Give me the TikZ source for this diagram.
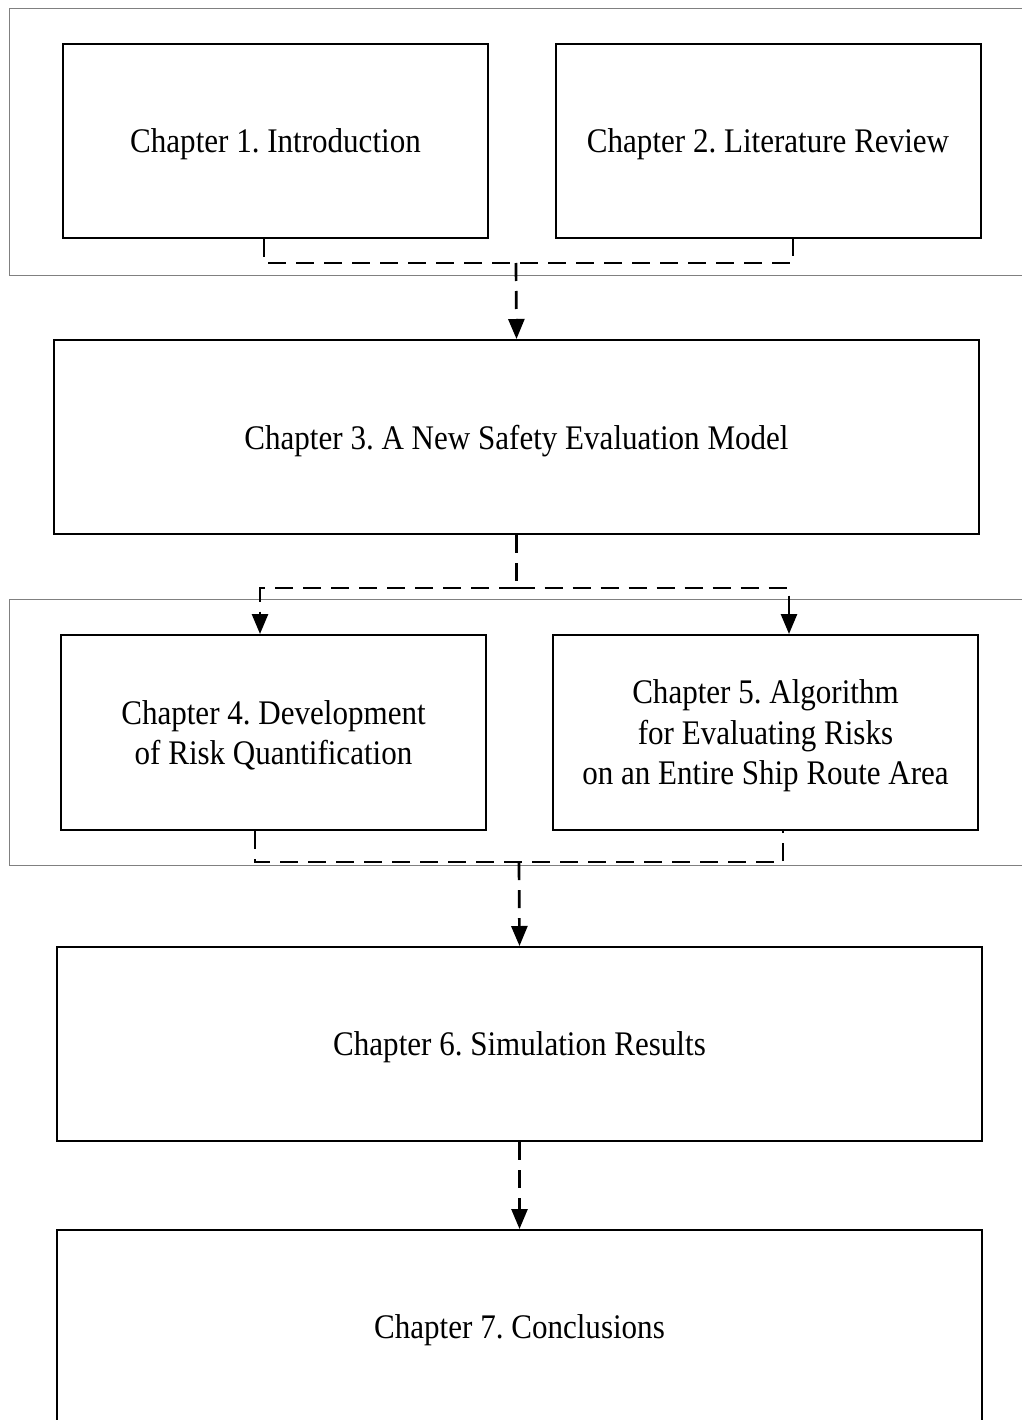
\documentclass[tikz,border=0pt]{standalone}
\usepackage{fontspec}
\setmainfont{Liberation Serif}[FakeStretch=0.9]
\usetikzlibrary{arrows.meta}
\begin{document}
\frenchspacing
\begin{tikzpicture}[x=1pt,y=-1pt,
 chap/.style={draw=black, fill=white, line width=2pt, minimum width=425pt, minimum height=194pt, inner sep=0pt, align=center, text depth=0pt, font=\fontsize{34.5}{40.5}\selectfont},
 wide/.style={chap, minimum width=925pt},
 grp/.style={draw=black!50, line width=1.3pt, inner sep=0pt, anchor=north west, fill=white},
 conn/.style={line width=2.7pt, dash pattern=on 18pt off 10pt},
 arr/.style={conn, -{Triangle[length=20pt,width=16pt]}}]
\fill[white] (0,0) rectangle (1021,1420);
\useasboundingbox (0,0) rectangle (1021,1420);
% group frames
\node[grp, minimum width=1030pt, minimum height=267pt] (gA) at (9,8) {};
\node[grp, minimum width=1030pt, minimum height=266pt] (gB) at (9,599) {};
% chapter boxes
\node[chap] (b1) at (275.5,141) {Chapter 1. Introduction};
\node[chap] (b2) at (768,141) {Chapter 2. Literature Review};
\node[wide] (b3) at (516.5,437) {Chapter 3. A New Safety Evaluation Model};
\node[chap, minimum height=195pt] (b4) at (273.5,732.5) {Chapter 4. Development\\of Risk Quantification};
\node[chap, minimum height=195pt] (b5) at (765.5,732.5) {Chapter 5. Algorithm\\for Evaluating Risks\\on an Entire Ship Route Area};
\node[wide] (b6) at (519.5,1044) {Chapter 6. Simulation Results};
\node[wide] (b7) at (519.5,1327) {Chapter 7. Conclusions};
% connectors
\coordinate (j1) at (516,263);
\draw[conn] ([xshift=-11.5pt]b1.south) |- (j1) -| ([xshift=25pt]b2.south);
\draw[arr] (j1) -- (b3.north);
\coordinate (j2) at (516.5,588);
\draw[conn] (b3.south) -- (j2);
\draw[arr] (j2) -| ([xshift=-13.5pt]b4.north);
\draw[arr] (j2) -| ([xshift=23.5pt]b5.north);
\coordinate (j3) at (519,862);
\draw[conn] ([xshift=-18.5pt]b4.south) |- (j3) -| ([xshift=17.5pt]b5.south);
\draw[arr] (j3) -- (b6.north);
\draw[arr] (b6.south) -- (b7.north);
\end{tikzpicture}
\end{document}
